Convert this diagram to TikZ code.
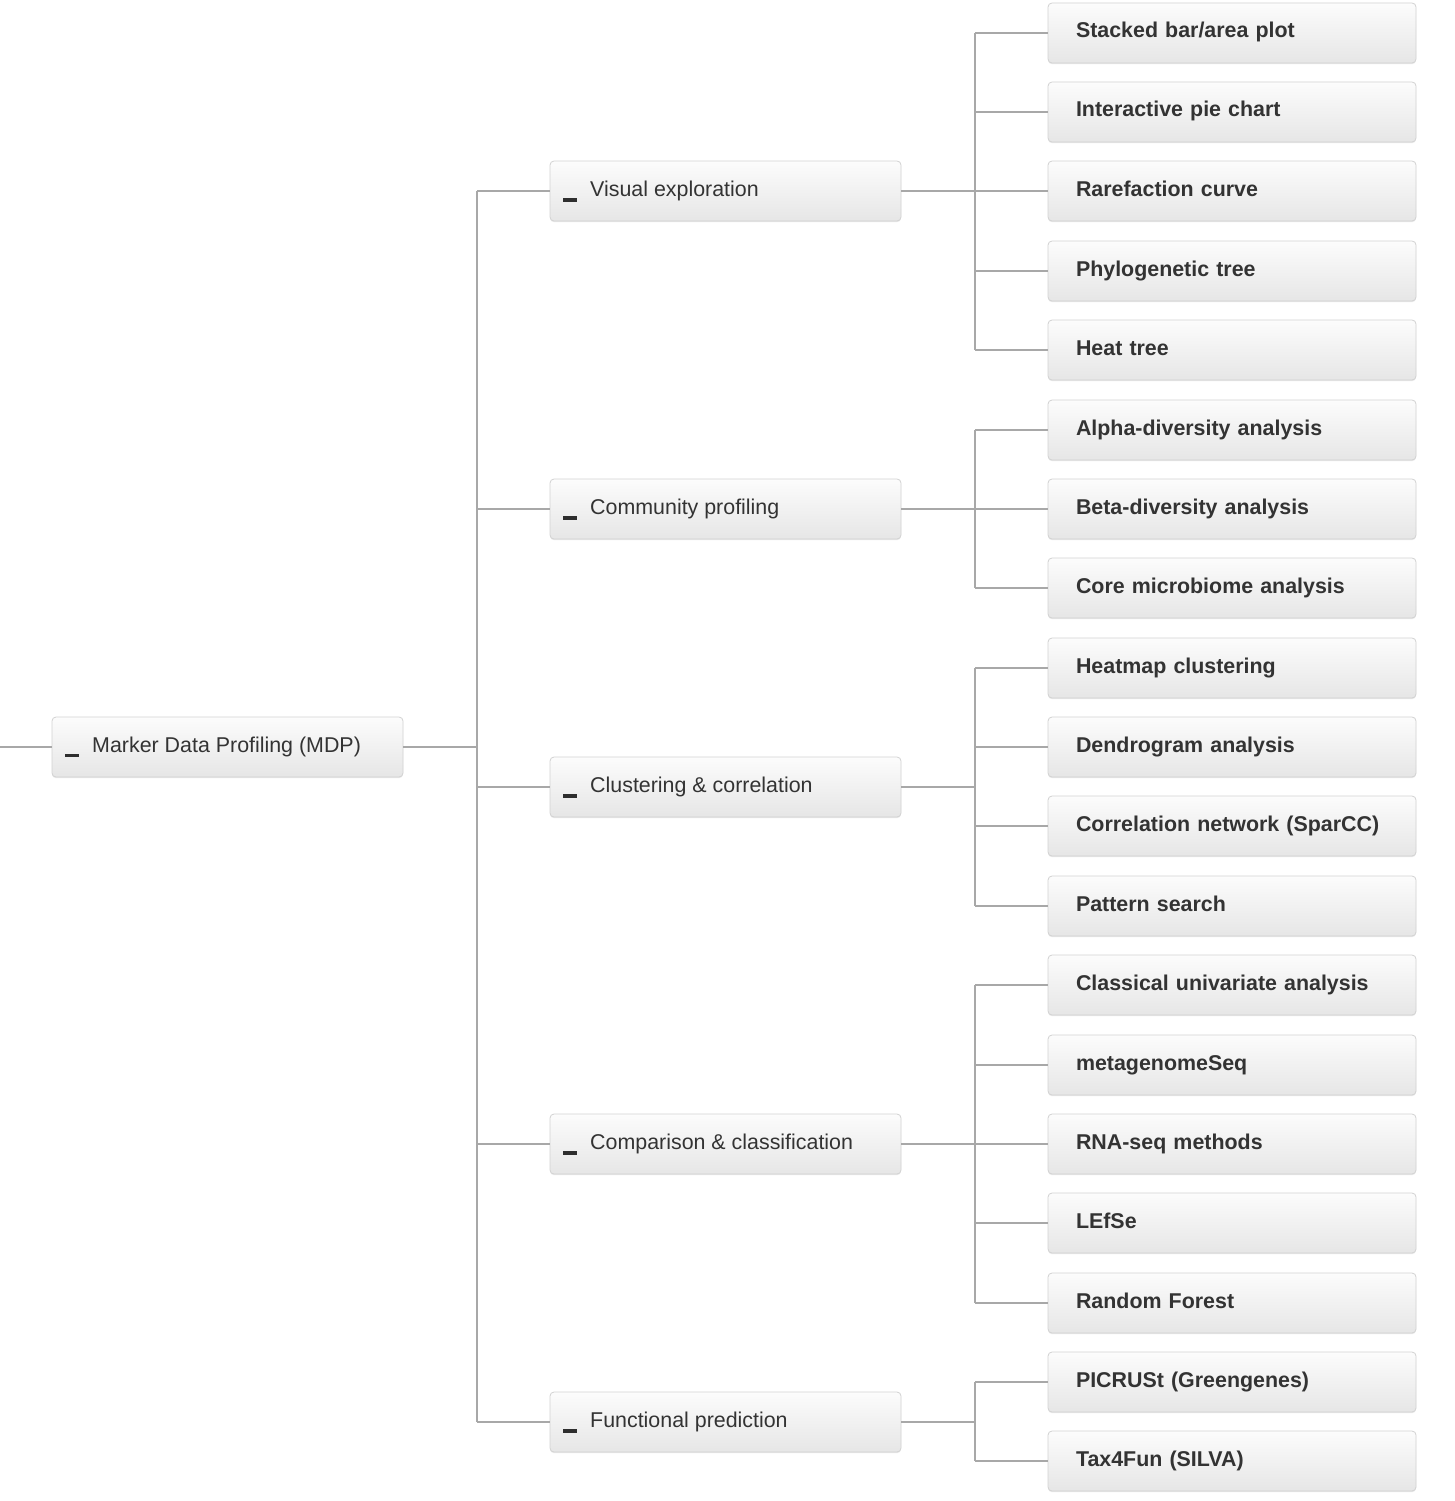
\documentclass[tikz,border=0pt]{standalone}
\usepackage{fontspec}
\setmainfont{Liberation Sans}
\usetikzlibrary{shadows}
\definecolor{boxline}{HTML}{D2D2D2}
\definecolor{boxtop}{HTML}{FCFCFC}
\definecolor{boxbot}{HTML}{E6E6E6}
\definecolor{conn}{HTML}{A8A8A8}
\definecolor{txt}{HTML}{333333}
\tikzset{
  box/.style={draw=boxline, line width=0.8pt, rounded corners=4pt,
    top color=boxtop, bottom color=boxbot,
    drop shadow={shadow xshift=0pt, shadow yshift=-1.2pt, opacity=0.18},
    anchor=center, font=\fontsize{21.4}{24}\selectfont, text=txt,
    text height=15pt, text depth=5pt, align=left},
  leafbox/.style={box, minimum width=368pt, minimum height=60pt,
    text width=312pt, inner xsep=28pt, font=\fontsize{21.4}{24}\selectfont\bfseries},
  midbox/.style={box, minimum width=351pt, minimum height=60pt,
    text width=298pt, inner xsep=0pt},
  midtext/.style={anchor=base west, font=\fontsize{21.4}{24}\selectfont, text=txt, inner sep=0pt},
  conline/.style={draw=conn, line width=1.2pt},
  dashmark/.style={fill=txt!90!black, draw=none, minimum width=14pt, minimum height=3.5pt, inner sep=0pt}
}
\begin{document}
\begin{tikzpicture}[x=1pt,y=-1pt]
\useasboundingbox (0,0) rectangle (1455,1501);
% root
\node[midbox] (root) at (227.5,747) {};
\node[midtext] (roott) at (92,752.5) {Marker Data Profiling (MDP)};
\node[dashmark] (rootd) at (72,755.5) {};
\coordinate (lstub) at (0,747);
% mid nodes
\foreach \nm/\yy/\tx in {ve/191/Visual exploration, cp/509/Community profiling, cc/787/Clustering \& correlation, cm/1144/Comparison \& classification, fp/1422/Functional prediction}{
  \node[midbox] (\nm) at (725.5,\yy) {};
  \node[midtext] (\nm t) at (590,\yy+5.5) {\tx};
  \node[dashmark] (\nm d) at (570,\yy+9) {};
}
% leaves
\foreach \nm/\yy/\tx in {
  l1/33/Stacked bar\slash area plot,
  l2/112/Interactive pie chart,
  l3/191/Rarefaction curve,
  l4/271/Phylogenetic tree,
  l5/350/Heat tree,
  l6/430/Alpha-diversity analysis,
  l7/509/Beta-diversity analysis,
  l8/588/Core microbiome analysis,
  l9/668/Heatmap clustering,
  l10/747/Dendrogram analysis,
  l11/826/Correlation network (SparCC),
  l12/906/Pattern search,
  l13/985/Classical univariate analysis,
  l14/1065/metagenomeSeq,
  l15/1144/RNA-seq methods,
  l16/1223/LEfSe,
  l17/1303/Random Forest,
  l18/1382/PICRUSt (Greengenes),
  l19/1461/Tax4Fun (SILVA)}{
  \node[leafbox] (\nm) at (1232,\yy) {\tx};
}
% connectors
\draw[conline] (lstub) -- (root.west);
\coordinate (trunk) at (477,747);
\draw[conline] (root.east) -- (trunk);
\draw[conline] (trunk |- ve.west) -- (trunk |- fp.west);
\foreach \m in {ve,cp,cc,cm,fp}{
  \draw[conline] (trunk |- \m.west) -- (\m.west);
}
\coordinate (lt) at (975,0);
\foreach \m/\a/\b in {ve/l1/l5, cp/l6/l8, cc/l9/l12, cm/l13/l17, fp/l18/l19}{
  \draw[conline] (\m.east) -- (lt |- \m.east);
  \draw[conline] (lt |- \a.west) -- (lt |- \b.west);
}
\foreach \l in {l1,l2,l3,l4,l5,l6,l7,l8,l9,l10,l11,l12,l13,l14,l15,l16,l17,l18,l19}{
  \draw[conline] (lt |- \l.west) -- (\l.west);
}
\end{tikzpicture}
\end{document}
